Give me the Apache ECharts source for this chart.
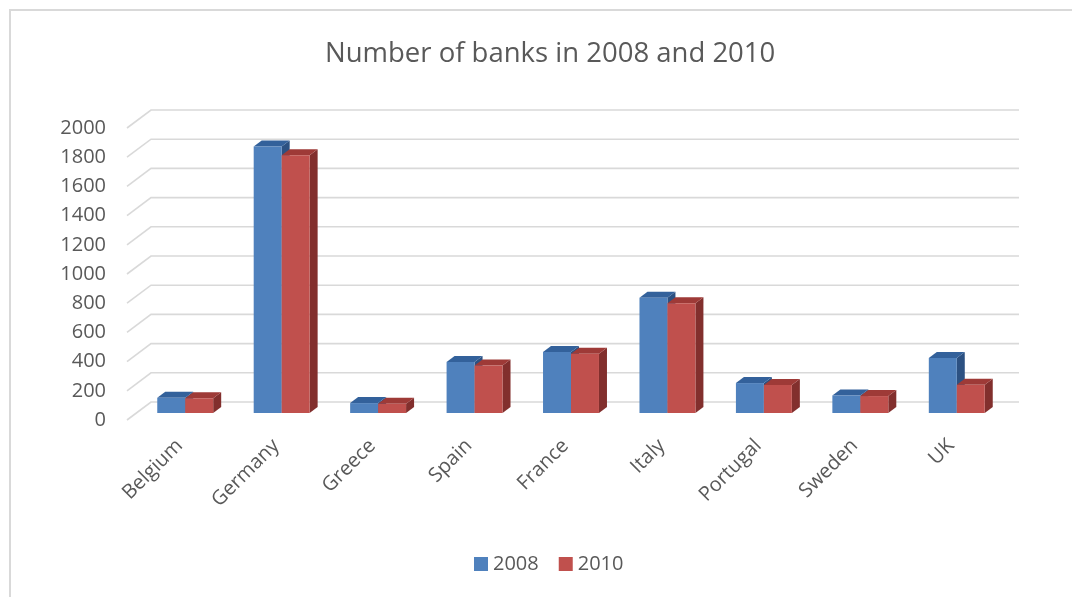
<!DOCTYPE html>
<html>
<head>
<meta charset="utf-8">
<script src="https://cdn.jsdelivr.net/npm/echarts@6/dist/echarts.min.js"></script>
<style>
  html, body { margin: 0; padding: 0; background: #ffffff; }
  #chart { width: 1072px; height: 597px; }
</style>
</head>
<body>
<div id="chart"></div>
<script>
// Number of banks per country, 2008 vs 2010
const categories = ['Belgium', 'Germany', 'Greece', 'Spain', 'France', 'Italy', 'Portugal', 'Sweden', 'UK'];
const banks2008 = [104, 1825, 68, 350, 418, 790, 205, 120, 377];
const banks2010 = [101, 1765, 63, 326, 405, 752, 192, 116, 193];
const yTicks = [0, 200, 400, 600, 800, 1000, 1200, 1400, 1600, 1800, 2000];

const TEXT = '#595959';
const GRID_LINE = '#d9d9d9';
const FONT = 'Open Sans';

// Pseudo-3D offsets relative to the plane of the bars' front faces
const FRONT = [-10, 7];   // front edge of the side wall
const BACK = [14, -11];   // back wall
const DEPTH = [8, -6];    // depth of each bar

const palettes = {
  '2008': { front: '#4f81bd', top: '#33619b', side: '#2c5182' },
  '2010': { front: '#c0504d', top: '#9e3a37', side: '#822f2d' }
};

// Back wall and left side wall gridlines, one polyline per tick value
function renderWall(params, api) {
  const v = api.value(1);
  const band = api.size([1, 0])[0];
  const p0 = api.coord([0, v]);
  const p1 = api.coord([categories.length - 1, v]);
  const left = p0[0] - band / 2;
  const right = p1[0] + band / 2;
  const y = p0[1];
  return {
    type: 'polyline',
    shape: {
      points: [
        [left + FRONT[0], y + FRONT[1]],
        [left + BACK[0], y + BACK[1]],
        [right + BACK[0], y + BACK[1]]
      ]
    },
    style: { stroke: GRID_LINE, lineWidth: 1.6, fill: null },
    silent: true
  };
}

// A bar drawn as front face, top face and right side face
function makeBarRenderer(colors, slot) {
  return function (params, api) {
    const idx = api.value(0);
    const val = api.value(1);
    const band = api.size([1, 0])[0];
    const barW = band * 0.29;
    const base = api.coord([idx, 0]);
    const top = api.coord([idx, val]);
    const x0 = base[0] + slot * barW;
    const x1 = x0 + barW;
    const yb = base[1];
    const yt = top[1];
    const dx = DEPTH[0], dy = DEPTH[1];
    return {
      type: 'group',
      children: [
        {
          type: 'polygon',
          shape: { points: [[x1, yt], [x1 + dx, yt + dy], [x1 + dx, yb + dy], [x1, yb]] },
          style: { fill: colors.side }
        },
        {
          type: 'polygon',
          shape: { points: [[x0, yt], [x0 + dx, yt + dy], [x1 + dx, yt + dy], [x1, yt]] },
          style: { fill: colors.top }
        },
        {
          type: 'rect',
          shape: { x: x0, y: yt, width: barW, height: yb - yt },
          style: { fill: colors.front }
        }
      ]
    };
  };
}

const chart = echarts.init(document.getElementById('chart'), null, { renderer: 'canvas' });

chart.setOption({
  animation: false,
  backgroundColor: '#ffffff',
  title: {
    text: 'Number of banks in 2008 and 2010',
    left: 320,
    top: 35,
    textStyle: { fontFamily: FONT, fontSize: 27.5, fontWeight: 'normal', color: TEXT }
  },
  legend: {
    left: 469,
    top: 549,
    icon: 'rect',
    itemWidth: 14,
    itemHeight: 14,
    itemGap: 20,
    textStyle: { fontFamily: FONT, fontSize: 20, color: TEXT },
    data: ['2008', '2010']
  },
  graphic: [{
    type: 'polyline',
    silent: true,
    shape: { points: [[10, 597], [10, 10], [1072, 10]] },
    style: { stroke: GRID_LINE, lineWidth: 2, fill: null }
  }],
  grid: [
    { left: 137, right: 67, top: 121, bottom: 184 },
    { left: 127, right: 77, top: 128, bottom: 177 }
  ],
  xAxis: [
    {
      type: 'category',
      gridIndex: 0,
      data: categories,
      axisLine: { show: false },
      axisTick: { show: false },
      axisLabel: {
        rotate: 45,
        margin: 24,
        padding: [0, 8, 0, 0],
        fontFamily: FONT,
        fontSize: 20,
        color: TEXT,
        interval: 0
      }
    },
    { type: 'category', gridIndex: 1, data: categories, show: false }
  ],
  yAxis: [
    {
      type: 'value', gridIndex: 0, min: 0, max: 2000, interval: 200,
      axisLine: { show: false }, axisTick: { show: false },
      axisLabel: { show: false }, splitLine: { show: false }
    },
    {
      type: 'value', gridIndex: 1, min: 0, max: 2000, interval: 200,
      axisLine: { show: false }, axisTick: { show: false },
      splitLine: { show: false },
      axisLabel: {
        margin: 21, fontFamily: FONT, fontSize: 20, color: TEXT,
        formatter: v => String(v)
      }
    }
  ],
  series: [
    {
      name: 'walls',
      type: 'custom',
      xAxisIndex: 0,
      yAxisIndex: 0,
      silent: true,
      clip: false,
      z: 1,
      renderItem: renderWall,
      data: yTicks.map(v => [0, v])
    },
    {
      name: '2008',
      type: 'custom',
      xAxisIndex: 0,
      yAxisIndex: 0,
      clip: false,
      z: 2,
      itemStyle: { color: palettes['2008'].front },
      renderItem: makeBarRenderer(palettes['2008'], -1),
      data: banks2008.map((v, i) => [i, v])
    },
    {
      name: '2010',
      type: 'custom',
      xAxisIndex: 0,
      yAxisIndex: 0,
      clip: false,
      z: 3,
      itemStyle: { color: palettes['2010'].front },
      renderItem: makeBarRenderer(palettes['2010'], 0),
      data: banks2010.map((v, i) => [i, v])
    }
  ]
});
</script>
</body>
</html>
